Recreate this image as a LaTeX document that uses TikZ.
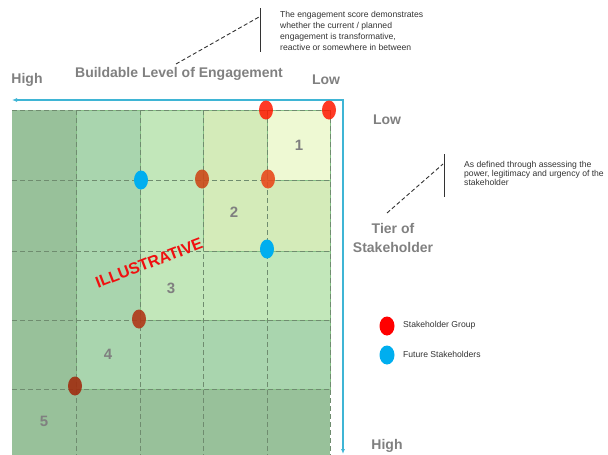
\documentclass[tikz,border=0pt]{standalone}
\usepackage{fontspec}
\setmainfont{Liberation Sans}
\usetikzlibrary{shapes.geometric,arrows.meta}
\definecolor{tierA}{HTML}{EEF9D3}
\definecolor{tierB}{HTML}{D4EBB9}
\definecolor{tierC}{HTML}{C2E7BA}
\definecolor{tierD}{HTML}{A9D5AE}
\definecolor{tierE}{HTML}{98C19A}
\definecolor{tierline}{HTML}{86C186}
\definecolor{gridgray}{HTML}{6F8C6F}
\definecolor{axisblue}{HTML}{3FB5D5}
\definecolor{labelgray}{HTML}{808080}
\definecolor{dotblue}{HTML}{00AEEF}
\definecolor{illred}{HTML}{F01010}
\definecolor{sgA}{HTML}{FF1800}
\definecolor{sgB}{HTML}{E84A1C}
\definecolor{sgC}{HTML}{CC4A1A}
\definecolor{sgD}{HTML}{B03818}
\definecolor{sgE}{HTML}{A02E10}
\begin{document}
\begin{tikzpicture}
  [x=1pt,y=-1pt,
   grid/.style={gridgray,line width=0.8pt,dash pattern=on 5pt off 3pt},
   sgdot/.style={ellipse,inner sep=0pt,minimum width=14pt,minimum height=19pt,opacity=0.9},
   axis/.style={axisblue,line width=1.3pt},
   axlabel/.style={labelgray,font=\bfseries\fontsize{14}{19}\selectfont},
   tiernum/.style={labelgray,font=\bfseries\fontsize{15}{17}\selectfont},
   note/.style={font=\fontsize{8.6}{11}\selectfont,text=black!80,align=left,inner sep=0pt},
   leader/.style={black!80,line width=0.9pt,dash pattern=on 4pt off 2.5pt}]
  \clip (0,0) rectangle (608,455);

  % tiers, outermost first
  \fill[tierE] (12,110) rectangle (330,460);
  \filldraw[fill=tierD,draw=tierline,line width=0.6pt] (76,110) rectangle (330,389);
  \filldraw[fill=tierC,draw=tierline,line width=0.6pt] (140,110) rectangle (330,320);
  \filldraw[fill=tierB,draw=tierline,line width=0.6pt] (203,110) rectangle (330,251);
  \filldraw[fill=tierA,draw=tierline,line width=0.6pt] (267,110) rectangle (330,180);

  % grid
  \draw[grid] (12,110) -- (330,110);
  \draw[grid] (12,180) -- (330,180);
  \draw[grid] (12,251) -- (330,251);
  \draw[grid] (12,320) -- (330,320);
  \draw[grid] (12,389) -- (330,389);
  \draw[grid] (76,110) -- (76,455);
  \draw[grid] (140,110) -- (140,455);
  \draw[grid] (203,110) -- (203,455);
  \draw[grid] (267,110) -- (267,455);
  \draw[grid] (330,110) -- (330,455);

  % axes
  \coordinate (axisL) at (12,100);
  \coordinate (corner) at (343,100);
  \coordinate (axisB) at (343,454);
  \draw[axis,{Latex[length=5pt,width=4pt]}-{Latex[length=5pt,width=4pt]}]
    (axisL) -- (corner) -- (axisB);

  % stakeholders
  \node[sgdot,fill=sgA,opacity=0.85] (s1) at (266,110) {};
  \node[sgdot,fill=sgA,opacity=0.85] (s2) at (329,110) {};
  \node[sgdot,fill=sgC] (s3) at (202,179) {};
  \node[sgdot,fill=sgB] (s4) at (268,179) {};
  \node[sgdot,fill=sgD] (s5) at (139,319) {};
  \node[sgdot,fill=sgE] (s6) at (75,386) {};
  \node[sgdot,fill=dotblue,opacity=1] (f1) at (141,180) {};
  \node[sgdot,fill=dotblue,opacity=1] (f2) at (267,249) {};

  \node[tiernum] (t1) at (299,145) {1};
  \node[tiernum] (t2) at (234,212) {2};
  \node[tiernum] (t3) at (171,288) {3};
  \node[tiernum] (t4) at (108,354) {4};
  \node[tiernum] (t5) at (44,421) {5};

  \node[rotate=21,illred,font=\bfseries\fontsize{16}{18}\selectfont] (illus) at (149,263) {ILLUSTRATIVE};

  % axis labels
  \node[axlabel] (hhigh) at (27,80) {High};
  \node[axlabel] (htitle) at (179,74) {Buildable Level of Engagement};
  \node[axlabel] (hlow) at (326,80) {Low};
  \node[axlabel] (vlow) at (387,120) {Low};
  \node[axlabel,align=center] (vtitle) at (393,238) {Tier of\\Stakeholder};
  \node[axlabel] (vhigh) at (387,446) {High};

  % notes
  \node[note,anchor=north west] (engnote) at (280,11.5)
    {The engagement score demonstrates\\whether the current / planned\\engagement is transformative,\\reactive or somewhere in between};
  \coordinate (engbarT) at (260,8);
  \coordinate (engbarB) at (260,52);
  \coordinate (engtip) at (259,17);
  \coordinate (engfoot) at (176,64);
  \draw[black!80,line width=1pt] (engbarT) -- (engbarB);
  \draw[leader] (engfoot) -- (engtip);

  \node[note,anchor=north west,font=\fontsize{8.6}{9}\selectfont] (tiernote) at (464,161.5)
    {As defined through assessing the\\power, legitimacy and urgency of the\\stakeholder};
  \coordinate (tierbarT) at (444,154);
  \coordinate (tierbarB) at (444,197);
  \coordinate (tiertip) at (443,164);
  \coordinate (tierfoot) at (387,213);
  \draw[black!80,line width=1pt] (tierbarT) -- (tierbarB);
  \draw[leader] (tierfoot) -- (tiertip);

  % legend
  \node[sgdot,fill=red,opacity=1,minimum width=15pt] (keysg) at (387,326) {};
  \node[note,anchor=west] (keysgtext) at (403,325) {Stakeholder Group};
  \node[sgdot,fill=dotblue,opacity=1,minimum width=15pt] (keyfs) at (387,355) {};
  \node[note,anchor=west] (keyfstext) at (403,354) {Future Stakeholders};
\end{tikzpicture}
\end{document}
